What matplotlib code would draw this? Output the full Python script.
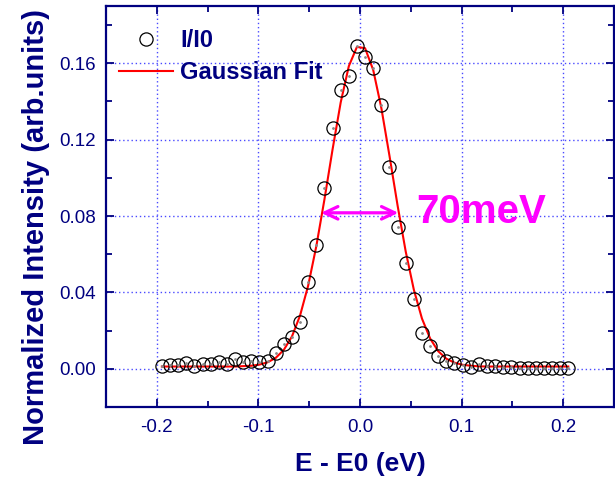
import matplotlib
matplotlib.use("Agg")
import matplotlib.pyplot as plt
from matplotlib.lines import Line2D
from matplotlib.ticker import MultipleLocator, FormatStrFormatter

# ---------------- data ----------------
energy = [-0.195 + 0.008 * i for i in range(51)]  # measured energy grid (eV), 8 meV step

intensity = [0.0014, 0.0019, 0.0019, 0.0033, 0.0016, 0.0026, 0.0023, 0.0037, 0.0026, 0.0049,
             0.0037, 0.0043, 0.0038, 0.0043, 0.0083, 0.0130, 0.0165, 0.0245, 0.0452, 0.0649,
             0.0946, 0.1263, 0.1458, 0.1532, 0.1689, 0.1632, 0.1576, 0.1383, 0.1059, 0.0745,
             0.0553, 0.0367, 0.0188, 0.0118, 0.0066, 0.0043, 0.0031, 0.0019, 0.0009, 0.0026,
             0.0016, 0.0014, 0.0009, 0.0009, 0.0005, 0.0005, 0.0005, 0.0005, 0.0003, 0.0003,
             0.0002]

gauss_fit = [0.0012, 0.0012, 0.0012, 0.0012, 0.0012, 0.0012, 0.0012, 0.0012, 0.0012, 0.0012,
             0.0014, 0.0016, 0.0022, 0.0034, 0.0057, 0.0099, 0.0169, 0.0279, 0.0436, 0.0642,
             0.0887, 0.1149, 0.1395, 0.1585, 0.1686, 0.1679, 0.1565, 0.1366, 0.1116, 0.0855,
             0.0614, 0.0414, 0.0263, 0.0159, 0.0092, 0.0053, 0.0032, 0.0021, 0.0016, 0.0013,
             0.0012, 0.0012, 0.0012, 0.0012, 0.0012, 0.0012, 0.0012, 0.0012, 0.0012, 0.0012,
             0.0012]

series_labels = ["I/I0", "Gaussian Fit"]
fwhm_left, fwhm_right, fwhm_level = -0.0384, 0.0378, 0.0817
fwhm_text = "70meV"
fwhm_text_pos = (0.0552, 0.0762)
x_label = "E - E0 (eV)"
y_label = "Normalized Intensity (arb.units)"

# ---------------- style ----------------
navy = "#000080"
plt.rcParams["font.family"] = ["Liberation Sans", "DejaVu Sans"]

fig = plt.figure(figsize=(6.15, 4.8), dpi=100)
ax = fig.add_axes([106 / 615, 73 / 480, 508 / 615, 401 / 480])

ax.set_xlim(-0.25, 0.25)
ax.set_ylim(-0.02, 0.19)

ax.xaxis.set_major_locator(MultipleLocator(0.1))
ax.xaxis.set_minor_locator(MultipleLocator(0.05))
ax.yaxis.set_major_locator(MultipleLocator(0.04))
ax.yaxis.set_minor_locator(MultipleLocator(0.02))
ax.xaxis.set_major_formatter(FormatStrFormatter("%.1f"))
ax.yaxis.set_major_formatter(FormatStrFormatter("%.2f"))

ax.grid(True, which="major", color="#4a4aff", linestyle=(0, (1, 2)), linewidth=1.0)
ax.set_axisbelow(True)

for sp in ax.spines.values():
    sp.set_color(navy)
    sp.set_linewidth(1.6)

ax.tick_params(which="both", direction="in", top=True, right=True, color=navy,
               labelcolor=navy, width=1.3)
ax.tick_params(which="major", length=6, labelsize=13.5)
ax.tick_params(which="minor", length=4.5)
ax.tick_params(axis="x", which="major", pad=9)
ax.tick_params(axis="y", which="major", pad=7)

# fit line
ax.plot(energy, gauss_fit, color="#ff0000", linewidth=1.5, zorder=3)
# data circles
ax.plot(energy, intensity, linestyle="none", marker="o", markersize=9.5,
        markerfacecolor="none", markeredgecolor="black", markeredgewidth=0.9, zorder=4)
ax.plot(energy, intensity, linestyle="none", marker="o", markersize=1.0,
        markerfacecolor="#888888", markeredgecolor="#888888", zorder=5)

# FWHM arrow and annotation
ax.annotate("", xy=(fwhm_right, fwhm_level), xytext=(fwhm_left, fwhm_level),
            arrowprops=dict(arrowstyle="<->,head_length=0.95,head_width=0.45",
                            color="#ff00ff", linewidth=2.3, shrinkA=0, shrinkB=0,
                            mutation_scale=10),
            zorder=6)
ax.text(fwhm_text_pos[0], fwhm_text_pos[1], fwhm_text, color="#ff00ff", fontsize=29,
        fontweight="bold", ha="left", va="baseline", zorder=6)

ax.set_xlabel(x_label, fontsize=19, fontweight="bold", color=navy, labelpad=11)
ax.set_ylabel(y_label, fontsize=21, fontweight="bold", color=navy)
ax.yaxis.set_label_coords(-0.110, 0.449)

handles = [
    Line2D([], [], linestyle="none", marker="o", markersize=9.5, markerfacecolor="none",
           markeredgecolor="black", markeredgewidth=0.9),
    Line2D([], [], color="#ff0000", linewidth=1.5),
]
leg = ax.legend(handles, series_labels, loc="upper left", bbox_to_anchor=(0.0, 0.974),
                frameon=False, fontsize=17, handlelength=2.3, handletextpad=0.3,
                labelspacing=0.36, borderaxespad=0.15)
for t in leg.get_texts():
    t.set_color(navy)
    t.set_fontweight("bold")

fig.savefig("out.png", dpi=100)
